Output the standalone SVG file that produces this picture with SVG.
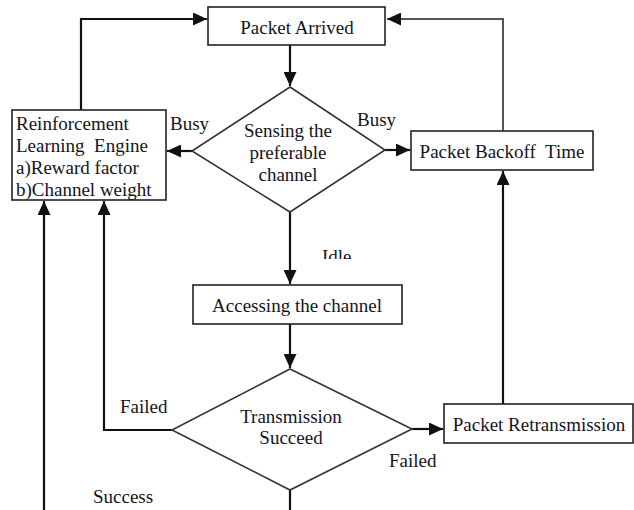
<svg xmlns="http://www.w3.org/2000/svg" width="634" height="510" viewBox="0 0 634 510">
  <style>
    .box { fill: #ffffff; stroke: #222; stroke-width: 1.6; }
    .dia { fill: #ffffff; stroke: #333; stroke-width: 1.6; }
    .lbl { font-family: "Liberation Serif", "Times New Roman", serif; font-size: 19px; fill: #14141c; }
    .mid { text-anchor: middle; }
    .wire { fill: none; stroke: #111; stroke-width: 2.2; }
    .wire-thin { fill: none; stroke: #555; stroke-width: 2; }
  </style>
  <defs>
    <marker id="arrow" markerUnits="userSpaceOnUse" markerWidth="15" markerHeight="13" refX="14" refY="6.5" orient="auto">
      <path d="M0,0 L14,6.5 L0,13 z" fill="#111"/>
    </marker>
    <clipPath id="idle-clip">
      <rect x="300" y="240" width="80" height="19"/>
    </clipPath>
  </defs>

  <rect width="634" height="510" fill="#ffffff"/>

  <!-- connectors -->
  <g id="connectors">
    <!-- RL engine back to packet arrived -->
    <polyline class="wire" points="81,110 81,19 207,19" marker-end="url(#arrow)"/>
    <!-- backoff back to packet arrived -->
    <polyline class="wire-thin" points="503,131 503,19 387,19" marker-end="url(#arrow)"/>
    <!-- packet arrived to sensing -->
    <line class="wire" x1="290" y1="45" x2="290" y2="86" marker-end="url(#arrow)"/>
    <!-- sensing busy -> RL engine -->
    <line class="wire" x1="192" y1="151" x2="167" y2="151" marker-end="url(#arrow)"/>
    <!-- sensing busy -> backoff -->
    <line class="wire" x1="385" y1="150" x2="410" y2="150" marker-end="url(#arrow)"/>
    <!-- sensing idle -> accessing -->
    <line class="wire" x1="290" y1="212" x2="290" y2="284" marker-end="url(#arrow)"/>
    <!-- accessing -> transmission -->
    <line class="wire" x1="290" y1="324" x2="290" y2="368" marker-end="url(#arrow)"/>
    <!-- transmission failed -> RL engine -->
    <polyline class="wire" points="172,430 104,430 104,201" marker-end="url(#arrow)"/>
    <!-- success -> RL engine -->
    <line class="wire" x1="44" y1="510" x2="44" y2="201" marker-end="url(#arrow)"/>
    <!-- transmission failed -> retransmission -->
    <line class="wire" x1="412" y1="429" x2="443" y2="429" marker-end="url(#arrow)"/>
    <!-- retransmission -> backoff -->
    <line class="wire" x1="503" y1="404" x2="503" y2="171" marker-end="url(#arrow)"/>
    <!-- transmission bottom -->
    <line class="wire" x1="290" y1="490" x2="290" y2="510"/>
  </g>

  <!-- edge labels -->
  <g id="edge-labels">
    <text class="lbl" x="170" y="130">Busy</text>
    <text class="lbl" x="357" y="126">Busy</text>
    <text class="lbl" x="322" y="263" clip-path="url(#idle-clip)">Idle</text>
    <text class="lbl" x="120" y="413">Failed</text>
    <text class="lbl" x="389" y="467">Failed</text>
    <text class="lbl" x="93" y="503">Success</text>
  </g>

  <g id="packet-arrived">
    <rect class="box" x="208" y="7" width="177" height="38"/>
    <text class="lbl mid" x="297" y="34">Packet Arrived</text>
  </g>

  <g id="sensing">
    <polygon class="dia" points="290,87 385,150 290,212 192,151"/>
    <text class="lbl mid" x="288" y="137">Sensing the</text>
    <text class="lbl mid" x="288" y="159">preferable</text>
    <text class="lbl mid" x="288" y="181">channel</text>
  </g>

  <g id="rl-engine">
    <rect class="box" x="12" y="110" width="154" height="90"/>
    <text class="lbl" x="16" y="130">Reinforcement</text>
    <text class="lbl" x="16" y="152" xml:space="preserve">Learning  Engine</text>
    <text class="lbl" x="16" y="174">a)Reward factor</text>
    <text class="lbl" x="16" y="196">b)Channel weight</text>
  </g>

  <g id="backoff">
    <rect class="box" x="411" y="131" width="182" height="39"/>
    <text class="lbl mid" x="502" y="158" xml:space="preserve">Packet Backoff  Time</text>
  </g>

  <g id="accessing">
    <rect class="box" x="193" y="285" width="209" height="39"/>
    <text class="lbl mid" x="297" y="312">Accessing the channel</text>
  </g>

  <g id="transmission">
    <polygon class="dia" points="290,369 412,429 290,490 172,430"/>
    <text class="lbl mid" x="291" y="423">Transmission</text>
    <text class="lbl mid" x="291" y="444">Succeed</text>
  </g>

  <g id="retransmission">
    <rect class="box" x="444" y="404" width="189" height="39"/>
    <text class="lbl mid" x="539" y="431">Packet Retransmission</text>
  </g>
</svg>
